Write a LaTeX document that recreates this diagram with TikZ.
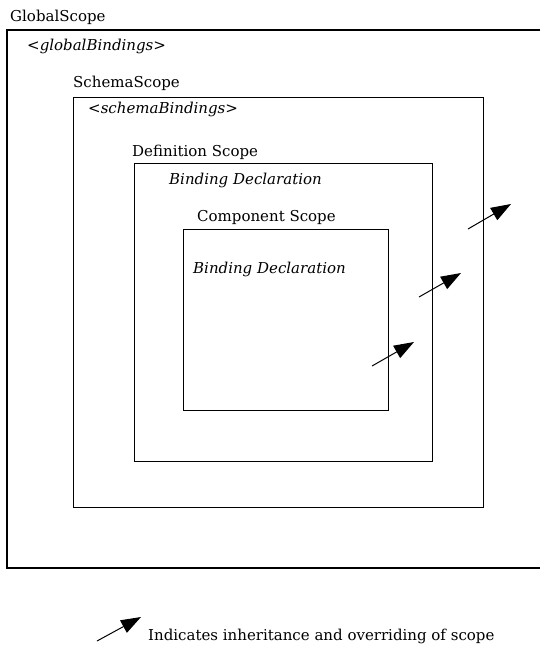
\documentclass[tikz,border=0pt]{standalone}
\usepackage{fontspec}
\setmainfont{DejaVu Serif}
\usepackage{tikz}
\usetikzlibrary{positioning,arrows.meta}

\begin{document}
\begin{tikzpicture}[x=1pt, y=-1pt,
    scopebox/.style={draw, line width=1pt, inner sep=0pt, outer sep=0pt, anchor=north west},
    scopelabel/.style={anchor=base west, inner sep=0pt, font=\fontsize{15}{17}\selectfont},
    bindinglabel/.style={scopelabel, font=\fontsize{15}{17}\selectfont\itshape},
    inherit/.style={-{Triangle[length=20pt, width=14pt]}, line width=1pt}]
    \useasboundingbox (0,0) rectangle (539,645);

    % Scope boxes, outer to inner
    \node[scopebox, line width=1.3pt, minimum width=534pt, minimum height=538pt] (global) at (7,30) {};
    \node[scopebox, minimum width=410pt, minimum height=410pt] (schema) at (73,97) {};
    \node[scopebox, minimum width=298pt, minimum height=298pt] (definition) at (134,163) {};
    \node[scopebox, minimum width=205pt, minimum height=181pt] (component) at (183,229) {};

    % Labels
    \node[scopelabel] (globalname) at (10,21) {GlobalScope};
    \node[bindinglabel] (globalbind) at (27,50) {<globalBindings>};
    \node[scopelabel] (schemaname) at (73,87) {SchemaScope};
    \node[bindinglabel] (schemabind) at (88,113) {<schemaBindings>};
    \node[scopelabel] (definitionname) at (132,156) {Definition Scope};
    \node[bindinglabel] (definitionbind) at (169,184) {Binding Declaration};
    \node[scopelabel] (componentname) at (197,221) {Component Scope};
    \node[bindinglabel] (componentbind) at (193,273) {Binding Declaration};

    % Inheritance arrows
    \coordinate (a1) at (372,366);
    \coordinate (b1) at (414,342);
    \coordinate (a2) at (419,297);
    \coordinate (b2) at (461,273);
    \coordinate (a3) at (468,229);
    \coordinate (b3) at (511,204);
    \draw[inherit] (a1) -- (b1);
    \draw[inherit] (a2) -- (b2);
    \draw[inherit] (a3) -- (b3);

    % Legend
    \coordinate (legtail) at (97,641);
    \coordinate (leghead) at (141,617);
    \draw[inherit] (legtail) -- (leghead);
    \node[scopelabel] (legend) at (148,640) {Indicates inheritance and overriding of scope};
\end{tikzpicture}
\end{document}
